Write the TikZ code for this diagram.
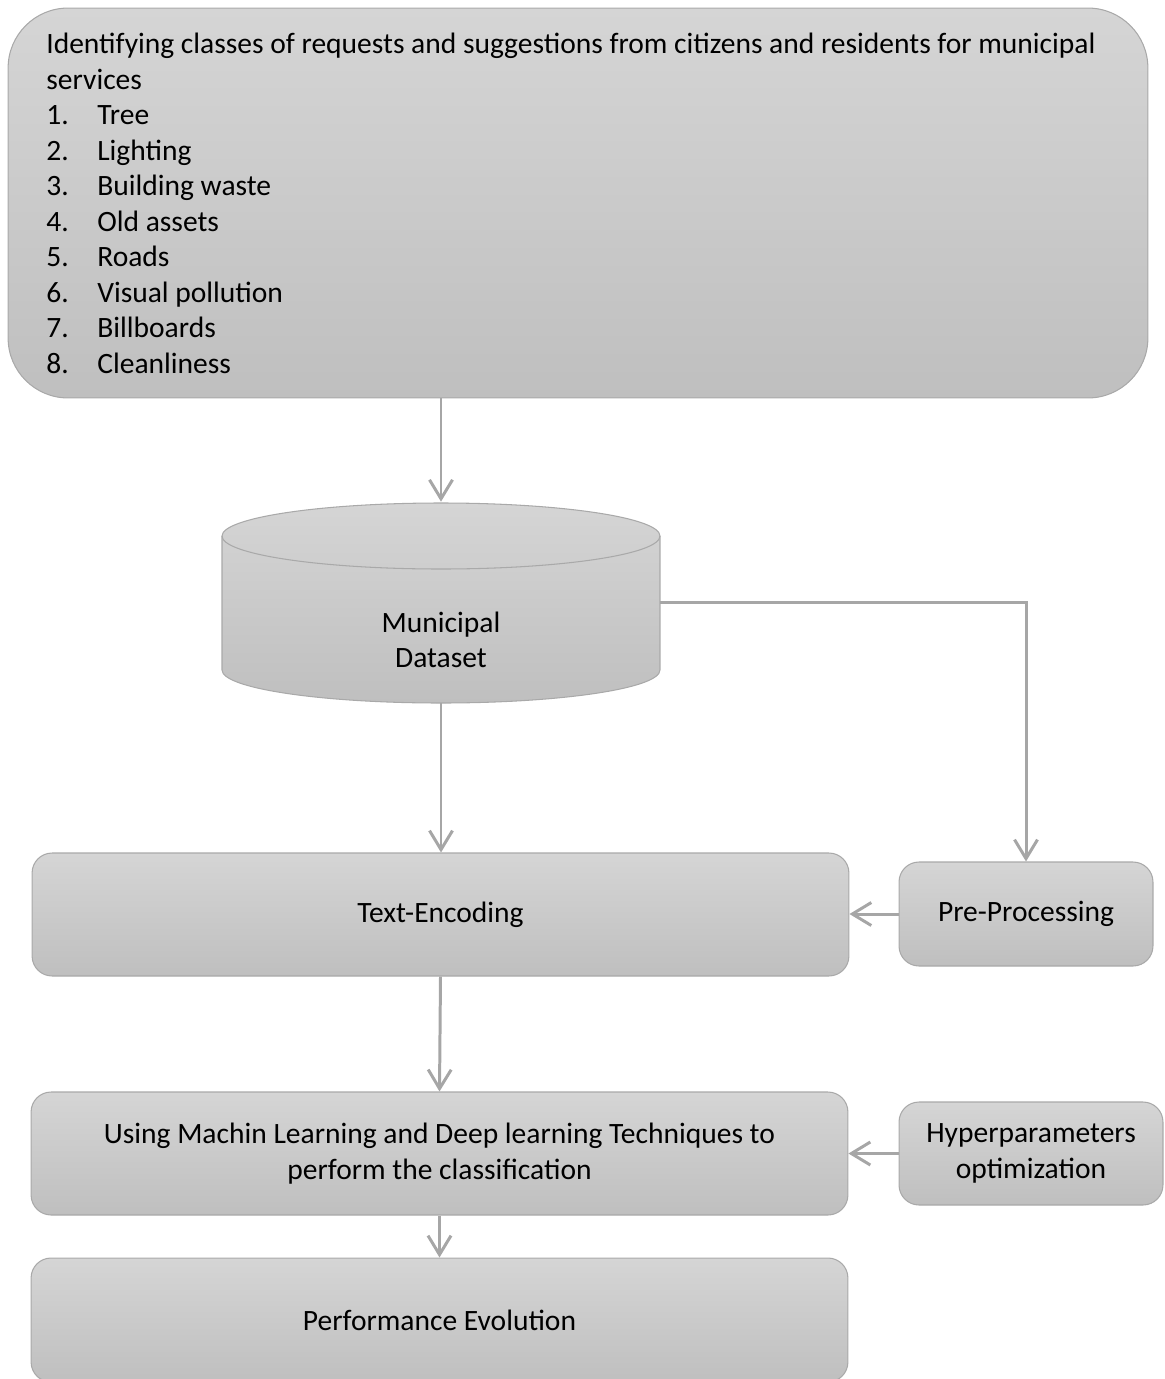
\documentclass[tikz,border=0pt]{standalone}
\usepackage{fontspec}
\setmainfont{Carlito}
\usetikzlibrary{arrows.meta}

\definecolor{boxtop}{HTML}{D5D5D5}
\definecolor{boxbot}{HTML}{BFBFBF}
\definecolor{edge}{HTML}{A9A9A9}
\definecolor{link}{HTML}{A6A6A6}

\tikzset{
    box/.style={draw=edge, line width=0.6pt, top color=boxtop, bottom color=boxbot,
        rounded corners=0.4cm, align=center, inner sep=0pt},
    conn/.style={draw=link, line width=1.7pt, -{Straight Barb[length=0.38cm, width=0.46cm]}},
}

\begin{document}
\begin{tikzpicture}[x=0.02cm, y=0.02cm, every node/.style={font=\fontsize{16.8}{20.2}\selectfont}]
    \useasboundingbox (0,0) rectangle (1164,-1379);

    % Classes of requests
    \node[box, rounded corners=1.2cm, minimum width=22.8cm, minimum height=7.8cm] (classes) at (578,-203) {};
    \node[anchor=north west, align=left, inner sep=0pt] (classlist) at (46,-33)
        {Identifying classes of requests and suggestions from citizens and residents for municipal\\
         services\\
         \makebox[1.02cm][l]{1.}Tree\\
         \makebox[1.02cm][l]{2.}Lighting\\
         \makebox[1.02cm][l]{3.}Building waste\\
         \makebox[1.02cm][l]{4.}Old assets\\
         \makebox[1.02cm][l]{5.}Roads\\
         \makebox[1.02cm][l]{6.}Visual pollution\\
         \makebox[1.02cm][l]{7.}Billboards\\
         \makebox[1.02cm][l]{8.}Cleanliness};

    % Dataset (cylinder)
    \node[minimum width=8.76cm, minimum height=4.02cm, inner sep=0pt] (data) at (441,-602.5) {};
    \path[draw=edge, line width=0.6pt, top color=boxtop, bottom color=boxbot]
        (222,-536) -- (222,-670) arc[start angle=180, end angle=360, x radius=219, y radius=33]
        -- (660,-536) arc[start angle=0, end angle=180, x radius=219, y radius=33] -- cycle;
    \draw[edge, line width=0.6pt] (660,-536) arc[start angle=0, end angle=-180, x radius=219, y radius=33];
    \node[align=center] (datatext) at (441,-640) {Municipal\\Dataset};

    % Processing steps
    \node[box, minimum width=16.34cm, minimum height=2.46cm] (enc) at (440.5,-914.5) {Text-Encoding};
    \node[box, minimum width=5.08cm, minimum height=2.08cm] (pre) at (1026,-914) {Pre-Processing};
    \node[box, minimum width=16.34cm, minimum height=2.46cm] (ml) at (439.5,-1153.5)
        {Using Machin Learning and Deep learning Techniques to\\perform the classification};
    \node[box, minimum width=5.28cm, minimum height=2.06cm] (hyp) at (1031,-1153.5)
        {Hyperparameters\\optimization};
    \node[box, minimum width=16.34cm, minimum height=2.48cm] (perf) at (439.5,-1320) {Performance Evolution};

    % Arrows
    \draw[conn] (classes.south -| data.north) -- (data.north);
    \draw[conn] (data.south) -- (data.south |- enc.north);
    \draw[conn] (data.east) -| (pre.north);
    \draw[conn] (pre.west) -- (pre.west -| enc.east);
    \draw[conn] (enc.south) -- (ml.north);
    \draw[conn] (hyp.west) -- (hyp.west -| ml.east);
    \draw[conn] (ml.south) -- (perf.north);
\end{tikzpicture}
\end{document}
